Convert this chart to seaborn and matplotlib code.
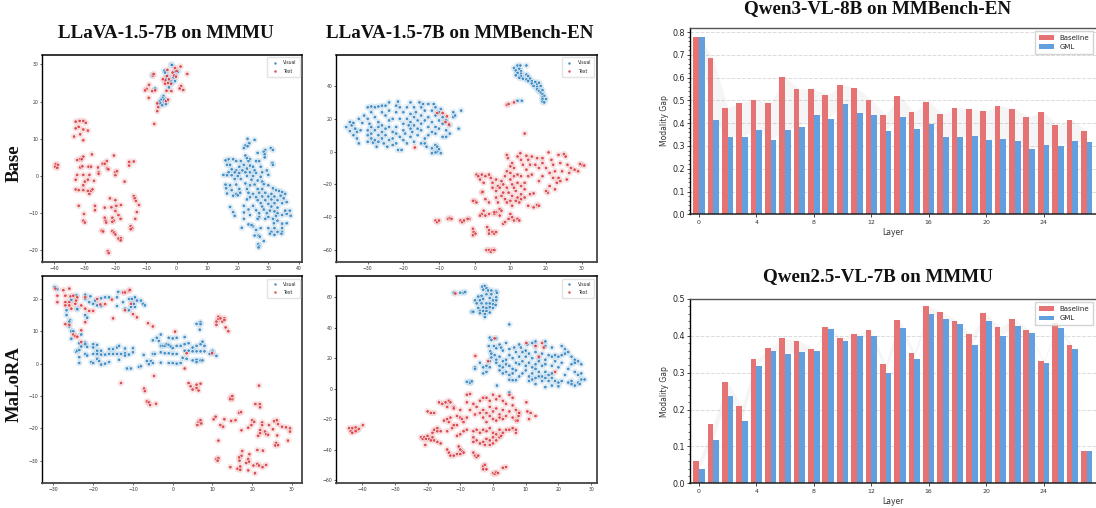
import matplotlib
matplotlib.use("Agg")
import matplotlib.pyplot as plt
import pandas as pd
import seaborn as sns

# Points
base_mmmu_visual = [(-1.8,29.9),(-1.5,29.8),(-4,28.3),(-3.8,27.8),(-.5,28),(.5,28),(-3,27),(-1,26.5),(-3.5,26),(-2,25.5),(-.5,25.5),(-1.5,25),(-8,27),(-7,23.5),(-2.5,23.8),(-4.3,21.5),(-4.5,21),(-5,20.5),(-5.5,20),(-4,20.5),(-3.5,20),(-5.3,19.5),(-4.7,19),(-3.5,19.3),
(23.2,10),(25.5,9.7),(22.5,8.2),(23.8,8.8),(23.2,8),(22,7.5),(26.5,6.2),(30.8,7.5),(29,7),(31.5,7),(28.5,6.5),(28.8,5.8),(22.5,5.5),(23,4.8),(28.8,5),(24,4.5),(17,4.5),(16,4.2),(18.5,4.5),(21,4),(19.5,4),(23.5,4),(26,4),(27,4),(31.3,3.5),(31.5,3),(16.5,3),(17.5,3),(20.5,2.5),(22,3),(24,2.8),(25,2.5),(27.5,2.5),(18,1.8),(19.5,1.5),(21.5,1.5),(23,2),(25.5,1.5),(28,1),(29.5,1.5),(17,1),(19,1),(20.5,.8),(22.5,1),(24,1),(26,.8),(15.3,.3),(16.5,.2),(18,.2),(20,0),(23,0),(25,0),(27.5,-.2),(30,.3),(19,-.8),(21,-.8),(24.5,-1),(26.5,-1.2),(28,-1.5),(16,-2.3),(17.5,-2.5),(19.5,-2.3),(22.5,-2),(24,-2.5),(25.5,-2.3),(28.5,-2.2),(30,-2.5),(16.2,-3.3),(18,-3.8),(20.5,-3.5),(23,-3.5),(26.5,-3.5),(28,-3.5),(31.5,-3.3),(32.5,-3.8),(16.5,-4.7),(19.5,-4.8),(20.8,-4.5),(23.5,-4.5),(25,-4.8),(27,-4.5),(29,-4.5),(31,-4.8),(33.5,-4),(34.5,-4.3),(35.5,-4.8),(18.5,-5.3),(20,-5.2),(24,-5.7),(26,-5.7),(28,-5.5),(30,-5.5),(32,-5.5),(34,-5.3),(23,-6.3),(26.5,-6.5),(29,-6.5),(31,-6.3),(33,-6.5),(35,-6),(36,-7),(27.5,-7.3),(30,-7.5),(32,-7.3),(34.5,-7.3),(17.5,-8.3),(22,-8),(25,-8),(28,-8.2),(31,-8.2),(33,-8.5),(23.5,-9),(26,-9.2),(28.5,-9),(30.5,-9.3),(32,-9.5),(35.5,-9.3),(37,-9.3),(18.5,-9.7),(22,-9.8),(27,-10),(29.5,-10),(33,-10),(36,-10.2),(19,-10.7),(24,-10.5),(27,-11),(30,-11),(32.5,-10.7),(34.5,-10.5),(37.3,-10.7),(22,-11.5),(26.5,-11.5),(29,-11.5),(31.5,-11.5),(33,-12),(36,-12.7),(23.5,-13),(25,-13.5),(31.8,-12.7),(34.5,-12.8),(24.5,-13.2),(21.3,-13.9),(27.5,-14),(30,-14),(32,-14),(34.5,-14),(26,-14.5),(31,-15),(33,-15),(34.5,-15),(25.5,-16),(26.8,-16),(27.2,-16.3),(30.5,-15.5),(32,-15.8),(34.3,-15.5),(28.5,-17.5),(26.7,-18.3),(27,-18.8),(26.8,-19.2)]
base_mmmu_text = [(3.5,27.4),(1.3,29.4),(-.5,29),(0,28.2),(-1.3,27.8),(-.8,27),(-.2,26.7),(-3,28.5),(-3.2,26.8),(-2.5,26),(-3.7,25.7),(-4.5,26),(-2.8,25),(-1.8,24.8),(-3.8,24.8),(1.5,24.2),(1,23.5),(2.2,23.1),(-7.7,27),(-7.5,27.4),(-9,24.5),(-9.8,23.4),(-10.3,23),(-8,22.8),(-7,23),(-3.3,22.9),(-1.7,22.8),(-9.1,21),(-6.3,19.5),(-6,18.5),(-6.3,17.4),(-3.5,20.1),(-2.8,20.5),(-7.3,14),
(-33,14.6),(-31.7,14.8),(-30.5,14.8),(-29.7,14.3),(-33,12.8),(-32,13.2),(-30.5,12.5),(-29,12.2),(-31.5,11.2),(-33.5,10.6),(-30.5,9.6),
(-39.5,3.2),(-38.8,3),(-39.7,2.5),(-39,2.2),(-31.5,4.5),(-32.5,4.3),(-30.5,5.2),(-31,4.5),(-27.7,5.8),(-20.5,5.5),(-24.2,3.3),(-23.5,3.3),(-22.8,4),(-15.5,3.8),(-14,3.9),(-15.5,2.8),(-31.5,2.3),(-30.8,2.6),(-28.8,2.5),(-28,2.5),(-25.7,2.3),(-22.7,2),(-22.3,1.8),(-20,1),(-19.5,1.3),(-25.5,1),(-25.5,.6),(-32.5,.3),(-30.5,.3),(-28.5,.3),(-20,.2),(-33,-1),(-30,-1.5),(-29,-1),(-27,-1.3),(-17,-1.5),(-30.5,-2.5),(-33,-3.6),(-32,-3.8),(-30.5,-3.8),(-29,-4),(-28,-4),(-27.5,-3.6),(-28.5,-4.8),
(-14,-5.4),(-13.7,-6),(-13.3,-6.7),(-21.8,-6),(-20,-6.5),(-12.3,-7.8),(-32,-8),(-26.7,-8),(-26.7,-9.2),(-23.5,-8.5),(-21.3,-8.4),(-19.7,-8),(-18.2,-7.8),(-20,-9.4),(-13,-9.7),(-30.3,-10.2),(-19,-10.5),(-30.5,-12),(-30,-12.5),(-23.5,-11.2),(-23.2,-12),(-23,-12.5),(-21,-11.2),(-20.5,-12),(-21,-12.3),(-18.3,-11.5),(-13.5,-11.5),(-15,-13.5),(-14.5,-14),(-15,-14.3),(-24.5,-14.7),(-24,-14.9),(-21,-14.8),(-20.5,-15.2),(-20,-15.7),(-19,-16.8),(-18.2,-16.7),(-18.3,-17.3),(-22.5,-20.2),(-22.2,-20.7)]

base_mmbench_visual = [(12,52.5),(12.8,52.5),(14.5,52.5),(11,51),(12.5,50.5),(11.5,49.5),(13,49),(12,48),(13,47.5),(11.5,46.5),(13,46),(14.5,47),(15,46),(12.5,45),(13.5,44.5),(14.5,44),(15.5,44.5),(16,43),(15,43),(17,42.5),(16,41.5),(17.5,41),(18,42),(16.5,40),(17.5,39.5),(18.5,40),(17.5,38),(18,37),(19,37.5),(18.5,36),(19,35),(19.5,34),(19,33),(19,32),(20,32),(19,30.5),(19.5,30),(12,31),(13.2,31),(-36,15),(-35,18),(-34.5,16),(-34,17.5),(-33.5,14),(-35,12.5),(-34,10),(-33,8),(-32.5,5),(-33,12),(-32,13),(-32.5,20),(-31.5,17.5),(-31,22),(-30,27),(-30,20),(-29.5,17),(-30,13),(-30,10),(-30,6),(-29,27.5),(-29,24),(-29,15),(-29,11),(-29,8),(-28.5,5.5),(-28,27),(-28,21),(-28,13),(-28,7),(-27.5,3),(-27,27.5),(-27,18),(-27,15),(-27,10),(-27,6),(-26,28),(-26,24),(-26,16),(-26,12),(-26,8),(-25.5,5),(-25,28),(-25,22),(-25,14),(-25,10),(-24.5,3),(-24,30),(-24,25),(-24,19),(-24,15),(-24,7),(-23,20),(-23,12),(-23,8),(-23,4),(-22,28),(-22,24),(-22,15),(-22,11),(-22,5),(-21.5,30.5),(-21.5,1),(-21,27),(-21,20),(-21,9),(-20.5,1),(-20,24),(-20,17),(-20,13),(-20,7),(-19.5,11),(-19,27),(-19,20),(-19,5),(-18.5,16),(-18,30),(-18,23),(-18,18),(-18,14),(-18,9),(-17.5,12),(-17,27),(-17,21),(-17,16),(-17,6),(-16.5,24),(-16,19),(-16,14),(-16,10),(-15.5,30),(-15,27),(-15,22),(-15,17),(-15,13),(-15,5),(-14.5,29),(-14,25),(-14,19),(-14,8),(-14,5),(-13.5,3),(-13,29),(-13,21),(-13,15),(-13,10),(-12,25),(-12,18),(-12,12),(-12,2),(-11.5,29),(-11,27),(-11,22),(-11,15),(-11,11),(-11,4),(-10.5,3),(-10.5,0),(-10,24),(-10,19),(-10,14),(-10,1.5),(-9.5,26),(-9.5,-1),(-9,21),(-9,17),(-9,9),(-8,19),(-8,13),(-8,9),(-7,16),(-7,11),(-6,24),(-6,21),(-5.5,22),(-4.5,14),(-3.8,25),(-12,-1),(-11,-.5)]
base_mmbench_text = [(-10.5,23.5),(-9,23.5),(-7.8,21.5),(-8.2,18),(-7.2,16.5),(-16.8,2.5),(9,28.5),(9.5,29),(11,30),(14,11),
(9,-2),(9.3,-4),(10.5,-7),(10,-9),(11,-10),(12,-3),(12.8,-1),(13,-5),(13.5,-8),(14.5,-2.5),(15,-5),(15.5,-8),(14.5,-11),(16,-3),(17,-8),(17.5,-4),(18,-10),(19,-4),(19,-7),(20,-10),(20.7,-.5),(21.5,-5),(22,-8),(22.5,-12),(23.5,-2),(24,-7),(25,-1.5),(25.5,-3),(26,-8),(26.5,-13),(27,-10),(28,-11),(29,-12),(30,-8),(30.7,-8.5),(29.5,-7.5),(24.5,-12),(21,-13),(19,-15),(18,-18),(16,-14),(15,-15),(13,-15),(12,-14),(11,-15),(10,-13),(9,-12),(8.5,-15),(10,-17),(0.5,-14),(1,-15),(2,-14),(3,-15),(1.5,-17),(2.5,-19),(4,-14),(4.5,-16),(5,-19),(6,-17),(6.5,-21),(7.5,-18),(8,-20),(9,-22),(10.5,-20),(11,-22),(12,-19),(13,-21),(14,-19),(5,-22),(6,-24),(7,-22),(8,-25),(9.5,-25),(10.5,-27),(11.5,-24),(12,-28),(13,-26),(14,-28),(14,-23),(15.5,-26),(16.5,-25.5),(2,-25),(2.2,-24.5),(20.5,-25),(20,-24),(21,-21),(22.5,-23),(23.5,-16),(22,-16),(23,-19),(24,-18),(25.8,-17),(3,-29),(4,-31),(6,-28),(6.5,-31),(7.5,-27),(8.5,-29),(9,-31),(10,-30),(10.5,-33),(11.5,-30),(12.5,-31),(13,-29),(15,-33),(16.5,-34),(17.5,-32.5),(18,-33),(0,-30),(-.5,-30),(.5,-31),(7,-35),(6,-37),(7.5,-36),(5.5,-38),(2.5,-36),(2,-38),(3,-39),(1.5,-39),(4,-38),(5.5,-37),(7,-39),(8,-44),(8.5,-43),(9.5,-41),(10,-38),(10.5,-40),(11,-42),(12,-41),(12.5,-42),(-11,-42),(-10.5,-43),(-10,-42),(-7.5,-41),(-7,-40.5),(-6.5,-41),(-4,-42),(-3.5,-43),(-3,-42),(-1.5,-41),(-2,-41),(-.5,-47),(-.3,-49),(-.5,-51),(.2,-50),(3.5,-46),(4,-48),(4,-50),(5,-49),(5.5,-50),(6,-49),(3.3,-60),(4,-60),(4.5,-61),(5,-60),(5.5,-60)]

malora_mmmu_visual = [(-29.7,23.7),(-29,23),(-24.2,21.1),(-22,21.3),(-22,20),(-20.7,20.8),(-25.5,19.7),(-21,19),(-19.5,19.5),(-18,20.2),(-17,20.5),(-16,20.5),(-13.7,22.2),(-14,20.5),(-12.5,19),(-11,20),(-10.3,20),(-9.5,20.5),(-9,19.5),(-8,19.5),(-9.8,18.5),(-7.5,18.5),(-7,18),(-10.5,17.5),(-9.5,17.5),(-12,17),(-11,16.5),(-14,17.8),(-18,17.8),(-24,17),(-24,16.8),(-20,18.5),(-19,18),(-26.7,16.5),(-26.7,15),(-25.8,13.5),(-26,13),(-26,11.5),(-22,15),(-21.5,14.2),(-25.5,10),(-25,10),(-25.5,7.7),(-23,9),(-23.5,6.3),(-22,6.5),(-22,6),(-23,5.3),(-21.5,5.2),(-20,6),(-19,5.8),(-20,5),(-19,4),(-18,4),(-16,4.5),(-15,4.5),(-14,5),(-13.5,5.5),(-12,4.7),(-10,4.8),(-10,3.5),(-24.3,3.7),(-24,4),(-23.5,4.2),(-23.5,2),(-22,3),(-21.5,2.5),(-20,3),(-19,3),(-18,2.8),(-17,2.8),(-16,3),(-15,3),(-14,3),(-13,3),(-12,3.2),(-12,2.5),(-11,2.8),(-20.5,.5),(-20,.2),(-19,1.5),(-18.5,.8),(-18,-.3),(-17,0),(-16,.5),(-13.5,1.2),(-23.5,.2),(-11.5,-1.5),(-10.5,-1.5),(-8.5,-1),(-8,-.8),(-7.3,2.7),(-6.5,.8),(-6,-.2),(-5.5,.8),(-5,.2),(-5,3),(-4.5,3),(-5,7.2),(-4,8),(-3.5,7),(-3,9),(-3,5.5),(-2.5,5.5),(-2,5.5),(-1.5,6),(-1,5.8),(-.5,5.3),(0,4.8),(-3,3.5),(-2,3.2),(-1,3.2),(0,3),(1,3),(-3,.3),(-1,.2),(0,.2),(1,0),(2,.2),(1,5.5),(2,5.5),(3,6),(4,6.3),(5,5),(6,5.5),(7,6),(7.5,6.8),(8,5.5),(3,4),(4,4),(5,3.8),(6,3.8),(7,3.8),(8,3.8),(2.5,1.8),(3.5,1.5),(5,1),(6,1.2),(6,.5),(7,1),(7.5,1),(-1,8),(1,8),(3,8.2),(6,12.3),(7,12.8),(7,12.2),(6.8,10.5),(9.3,3),(10,4),(10,3.5),(11,2.4),(0,7.8)]
malora_mmmu_text = [(-29.5,23.2),(-27.5,22.7),(-26,23.2),(-29,21),(-27,21),(-25.7,20.8),(-25,21),(-24,20.5),(-24.3,19.5),(-29,19),(-27,19),(-26,19),(-27,18),(-26,18),(-25.5,17),(-24.5,18.5),(-23,18),(-22,17),(-21,16.3),(-20,16.3),(-22,20.5),(-19,20),(-18.2,18.3),(-17,18.4),(-15.3,19.8),(-12.5,22),(-12,22),(-11,22.5),(-10.8,22.8),(-12,16.5),(-10.5,18.5),(-10,15.3),(-9,14.3),(-15,14),(-27,12.2),(-26,12),(-22,12.8),(-23,10.3),(-25,9),(-24.5,8.5),(-24,8.3),(-23,6.7),(-6.2,12.5),(-5,11.5),(.6,9.9),(3.5,3.2),(9.9,3.2),(3,-1.5),(-4.7,-3.8),(-13,-6),(-7.2,-7.7),(-7,-8.5),(4,-6),(4.5,-7),(5,-8),(6,-7.5),(6,-6.5),(7,-6.2),(6.5,-8.3),(-6.5,-11.7),(-6,-12),(-5.7,-12.8),(-4.2,-12.4),(11.5,14.5),(11,13),(11.5,13.8),(12,14),(12.5,13),(13,14),(13,13.5),(11,12),(13.3,11.2),(14,10),(14.5,-10.5),(15,-11),(15,-10),(14.5,-11),(21.7,-6.8),(20.8,-12.5),(21.9,-12.5),(22,-13.5),(16.7,-15.2),(17.2,-15),(10.3,-17.2),(10.8,-16.4),(13,-17.2),(14.7,-17.7),(15.8,-17.5),(6.5,-18),(6.8,-18),(7,-17.5),(6.2,-19),(7.2,-18.5),(12,-19),(12.7,-19.5),(17.3,-20.6),(19,-19.8),(19.8,-19),(20,-17.5),(20.5,-18),(22.5,-18.2),(22.5,-19),(22,-20.5),(22,-21.5),(21.5,-22.3),(23.2,-21),(23.5,-21.8),(24,-22),(24.2,-19),(25.5,-17.8),(26.2,-17.5),(26.5,-18.7),(25.2,-20.3),(26.3,-22.2),(27.5,-19.5),(28.5,-19.7),(29.5,-20),(29.5,-21),(29,-23.8),(11.5,-23.8),(26,-24.5),(25.8,-25.3),(26.5,-25.2),(21.3,-26.7),(22.7,-26.9),(17.5,-27),(19.3,-28),(17.3,-28.5),(16.7,-29),(16.8,-30),(19,-29.5),(19.2,-30.3),(11,-29.5),(11.5,-29.2),(11.3,-30),(18.5,-30.7),(21.3,-31),(20.3,-31.5),(21.7,-31.5),(23.5,-31.3),(22.6,-32),(14.5,-32),(16.3,-32.5),(17,-31.8),(17,-32.8),(19,-33),(20.7,-33.9)]

malora_mmbench_visual = [(-12,63),(-10,63),(-9,63),(-8.5,63.5),(-3.3,67),(-2.5,67.5),(-2,66),(-3,65),(-1.5,64.5),(-.5,64.5),(1,64),(-3.5,61),(-4.5,60.5),(-2,62),(-.5,62),(1,60),(1.2,63),(-5.5,58),(-4,58),(-3,59),(-1,59.5),(0,58),(1,58),(-5,56),(-3.5,56),(-2,56),(-1,56),(0,55.5),(.8,55),(-4.5,53),(-3,53.5),(-2,53),(-1,53.5),(0,53),(-4,51),(-3,51),(-2,51),(-1,50),(-6.5,50.5),(-6,50.5),(-4,49.5),(-2.5,49),(-2.5,47),(5,42.2),(-1,33.5),(-.5,32),(1,33),(2,29),(4,30),(-1.3,28),(.3,28),(1,26.5),(2.5,27),(-.8,24.5),(-.5,23),(.5,22),(-.5,20.5),(1,19),(2,21),(3,25),(5,26),(6.5,27),(8,29),(8.5,27),(10,25),(10.5,29),(12,30),(13,28),(13,31),(16,31),(16,28),(18,27),(21,28),(22,26),(1,17),(2,15),(3,18),(4,19),(5,22),(6,20),(7,24),(8,21),(9,24),(10,21),(11,23),(12,20),(13,24),(14,20),(15,23),(16,19),(17,22),(18,21),(19,22),(20,21),(21,22),(22,23),(23,24),(24,21),(25,19),(26,18),(27,16),(3,14),(4,16),(5,15),(6,13),(7,17),(8,16),(9,18),(10,15),(11,17),(12,14),(13,16),(14,18),(15,15),(16,16),(18,15),(19,18),(20,14),(21,17),(23,13),(24,16),(25,17),(2,12),(3,10),(4,11),(5,9),(6,10),(7,12),(8,8),(9,10),(10,12),(11,8),(12,10),(13,13),(14,11),(15,8),(16,11),(17,9),(18,10),(22,9),(25,11),(26,9),(27,10),(-5.5,14),(-5.5,13),(-4,17),(-3,14),(-3,10),(-2,11),(-2,15),(-1,14),(-1,18),(5,5.8),(6,5.5),(7,5.5),(11,5),(12,6),(13,7),(14,8),(13,3),(15,5),(16,7),(17,5),(18,7),(19,5),(20,4),(21,5),(23,4),(24,5),(25,2),(26,4),(27,6),(28,6),(26.5,3),(24,3),(-8,4.5),(-7,4),(-7,4),(-6.5,4.8),(1.2,2),(16,1),(18,2),(20,1.5),(5,-2.5)]
malora_mmbench_text = [(-11.5,62.5),(.5,33),(-5.4,21.5),(-1.5,18),(10.2,30),(13,28),(15,30),(15.5,27),(14,21),(19,11),
(-44,-26),(-43.5,-28),(-43,-29),(-43,-26),(-42,-27),(-42,-25.5),(-41.5,-27),(-41,-26.5),(-42,-28),(-39.8,-24),(-22,-32),(-21.5,-33),(-21,-32),(-20.5,-33),(-20,-31),(-19.5,-33),(-19,-34),(-18.5,-32),(-18,-34),(-20.7,-37),(-18,-27),(-18.5,-29),(-17,-26),(-17,-28),(-16,-28),(-17,-35),(-16,-36),(-20,-15),(-19,-16),(-18,-16),(-16.5,-9),(-15.5,-10),(-14.5,-9),(-14,-12),(-13.5,-8),(-13,-9),(-12,-12),(-12,-13),(-15,-21),(-14,-20),(-13.5,-22),(-13,-19),(-14,-28),(-12.5,-26),(-12,-24),(-11,-24),(-11,-18),(-10,-19),(-9.5,-20),(-9,-22),(-8,-19),(-10,-14),(-8,-9),(-7,-14),(-6,-10),(-5,-12),(-5.5,-17),(-4,-16),(-3,-19),(-2,-22),(-8,-4),(-7,-3.5),(-4,-8),(-3,-6),(-2,-6),(-1,-8),(0,-4),(1,-7),(2,-5),(3,-8),(4,-10),(5,-4),(6,-6),(6,-11),(7,-14),(8,-16),(-1,-12),(0,-15),(1,-13),(2,-17),(3,-14),(4,-18),(5,-15),(6,-19),(7,-21),(-1,-18),(0,-20),(1,-21),(2,-19),(3,-20),(-3,-14),(-2,-16),(-8,-27),(-9,-28),(-11,-31),(-10,-30),(-6,-28),(-5,-27),(-4,-29),(-3,-27),(-2,-28),(-1,-26),(0,-29),(1,-30),(2,-27),(3,-29),(4,-27),(5,-27),(6,-26),(7,-29),(7,-27),(-2,-33),(-3,-35),(-2.5,-37),(-1,-34),(-1,-37),(0,-32),(0,-36),(1,-34),(2,-32),(2.5,-31),(-5,-34),(-6,-32),(-6,-35),(-4,-36),(-13.5,-42),(-13,-44),(-12,-44),(-11,-43),(-10,-43),(-9.5,-41),(-10.5,-38),(-10,-40),(-9,-42),(-6,-42),(-5.5,-44),(-5,-45),(-4.5,-44),(-14,-40),(-3,-51),(-3,-53),(-2.5,-50),(-2,-53),(0,-55.5),(.5,-56),(1,-55),(1.5,-55.5),(3,-52),(4,-51.5),(10.2,-9),(10.5,-15),(11.5,-16),(11,-20),(13,-18),(7.8,-18),(7.5,-21),(8,-16)]

# Bar values
layers = list(range(28))
qwen3_baseline = [.78,.685,.468,.49,.503,.49,.603,.55,.55,.525,.568,.555,.503,.437,.52,.45,.495,.441,.468,.463,.455,.477,.463,.428,.45,.393,.415,.367]
qwen3_gml = [.78,.415,.34,.34,.372,.327,.372,.385,.437,.42,.485,.446,.437,.367,.428,.376,.398,.34,.34,.345,.327,.332,.323,.288,.305,.301,.323,.318]
qwen25_baseline = [.06,.161,.275,.21,.336,.368,.393,.387,.365,.425,.393,.406,.415,.324,.444,.354,.48,.464,.44,.404,.461,.423,.447,.415,.333,.435,.374,.087]
qwen25_gml = [.038,.118,.238,.169,.317,.36,.352,.355,.358,.418,.385,.399,.399,.3,.42,.338,.458,.445,.431,.376,.44,.399,.428,.407,.327,.42,.363,.087]

W, H = 1096, 508
fig = plt.figure(figsize=(W / 100, H / 100), dpi=100)
sns.set_style("white")
SERIF = "Liberation Serif"


def px_axes(x0, y0, x1, y1):
    return fig.add_axes([x0 / W, 1 - y1 / H, (x1 - x0) / W, (y1 - y0) / H])


def tsne_panel(box, visual, text, xlim, ylim, xticks, yticks):
    ax = px_axes(*box)
    df = pd.DataFrame(visual + text, columns=["x", "y"])
    df["Modality"] = ["Visual"] * len(visual) + ["Text"] * len(text)
    pal = {"Visual": "#2a80bf", "Text": "#d8343a"}
    # pale halo under each point, then the point with its white edge
    sns.scatterplot(data=df, x="x", y="y", hue="Modality", palette=pal, s=24, alpha=0.13,
                    linewidth=0, legend=False, ax=ax)
    sns.scatterplot(data=df, x="x", y="y", hue="Modality", palette=pal, s=6, alpha=0.85,
                    edgecolor="white", linewidth=0.45, ax=ax)
    ax.set_xlim(xlim)
    ax.set_ylim(ylim)
    ax.set_xticks(xticks)
    ax.set_yticks(yticks)
    ax.set_xlabel("")
    ax.set_ylabel("")
    ax.tick_params(left=True, bottom=True, labelsize=3.3, length=1.5, width=0.5, pad=1.5, labelcolor="#333333")
    ax.legend(loc="upper right", fontsize=3.3, markerscale=0.9, borderpad=0.7, handletextpad=0.8,
              labelspacing=0.7, framealpha=0.8, edgecolor="#dddddd", fancybox=True)
    ax.spines["top"].set(color="black", linewidth=1.1)
    ax.spines["left"].set(color="black", linewidth=1.0)
    ax.spines["right"].set(color="#444444", linewidth=1.3)
    ax.spines["bottom"].set(color="#444444", linewidth=1.3)


def gap_panel(box, baseline, gml, ylim, yticks):
    ax = px_axes(*box)
    df = pd.DataFrame({"Layer": layers * 2, "Gap": baseline + gml,
                       "Method": ["Baseline"] * 28 + ["GML"] * 28})
    sns.barplot(data=df, x="Layer", y="Gap", hue="Method", palette={"Baseline": "#e57373", "GML": "#629fdf"},
                saturation=1, width=0.8, linewidth=0, edgecolor="none", ax=ax, zorder=2)
    ax.fill_between(layers, baseline, gml, color="gray", alpha=0.08, linewidth=0, zorder=1)
    ax.set_axisbelow(True)
    ax.grid(axis="y", linestyle="--", color="#cccccc", linewidth=0.7, alpha=0.7, zorder=0)
    ax.set_xlim(-0.6, 27.65)
    ax.set_ylim(ylim)
    ax.set_xticks(range(0, 28, 4), [str(v) for v in range(0, 28, 4)])
    ax.set_yticks(yticks)
    ax.set_yticks([v / 50 for v in range(int(ylim[1] * 50) + 1)], minor=True)
    ax.set_xlabel("Layer", fontsize=5.5, labelpad=2.5, color="#333333")
    ax.set_ylabel("Modality Gap", fontsize=5.5, labelpad=3, color="#333333")
    ax.tick_params(axis="x", bottom=True, labelsize=4.5, length=2, width=0.6, pad=2, labelcolor="#333333")
    ax.tick_params(axis="y", which="major", left=True, labelsize=5.8, length=2, width=0.6, pad=1.5, labelcolor="#222222")
    ax.tick_params(axis="y", which="minor", left=True, length=1.2, width=0.5)
    ax.legend(loc="upper right", fontsize=5, title=None, borderpad=0.5, handlelength=2.2,
              framealpha=0.85, edgecolor="#cccccc", fancybox=False)
    ax.spines["left"].set(color="black", linewidth=1.0)
    ax.spines["bottom"].set(color="#222222", linewidth=1.1)
    ax.spines["top"].set(color="#555555", linewidth=1.0)
    ax.spines["right"].set_visible(False)
    return ax


tsne_panel((42.3, 55, 302.3, 262), base_mmmu_visual, base_mmmu_text, (-43.9, 41.1), (-23.1, 32.5),
           range(-40, 41, 10), range(-20, 31, 10))
tsne_panel((336.3, 55, 596.7, 262), base_mmbench_visual, base_mmbench_text, (-38.8, 34.2), (-67.3, 58.9),
           range(-30, 31, 10), range(-60, 41, 20))
tsne_panel((42.3, 276.3, 302.3, 483), malora_mmmu_visual, malora_mmmu_text, (-32.8, 32.6), (-36.9, 27),
           range(-30, 31, 10), range(-30, 21, 10))
tsne_panel((336.3, 276.3, 596.7, 483), malora_mmbench_visual, malora_mmbench_text, (-47.9, 31.7), (-62, 73.8),
           range(-40, 31, 10), range(-60, 61, 20))

gap_panel((690.3, 27.7, 1096, 214.3), qwen3_baseline, qwen3_gml, (0, 0.819), [v / 10 for v in range(9)])
gap_panel((690.3, 299, 1096, 483.3), qwen25_baseline, qwen25_gml, (0, 0.5), [v / 10 for v in range(6)])


def label(x, y, s, **kw):
    fig.text(x / W, 1 - y / H, s, family=SERIF, weight="bold", ha="center", va="center", color="#111111", **kw)


label(165.5, 33, "LLaVA-1.5-7B on MMMU", fontsize=13.7)
label(460, 33, "LLaVA-1.5-7B on MMBench-EN", fontsize=13.7)
label(878, 9, "Qwen3-VL-8B on MMBench-EN", fontsize=13.7)
label(878, 277, "Qwen2.5-VL-7B on MMMU", fontsize=13.7)
label(14.5, 163, "Base", fontsize=13.5, rotation=90)
label(14.5, 384, "MaLoRA", fontsize=13.5, rotation=90)

fig.savefig("out.png", dpi=100)
